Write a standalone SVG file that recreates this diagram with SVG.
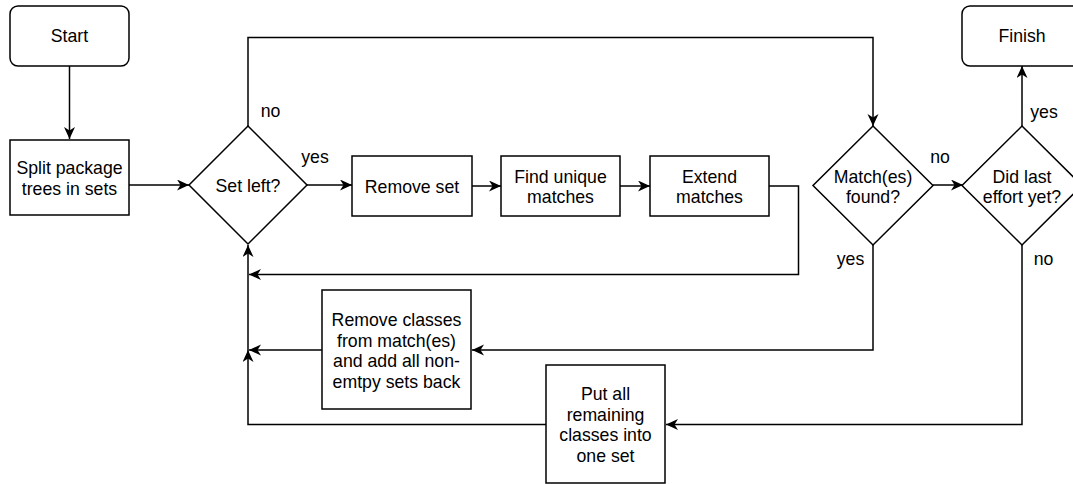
<svg xmlns="http://www.w3.org/2000/svg" width="1073" height="484" viewBox="0 0 1073 484">
<style>
.box{fill:#fff;stroke:#000;stroke-width:1.5}
.ln{fill:none;stroke:#000;stroke-width:1.5}
text{font-family:"Liberation Sans",Arial,sans-serif;font-size:17.7px;fill:#000;text-anchor:middle}
</style>
<defs>
<marker id="ah" markerUnits="userSpaceOnUse" markerWidth="14" markerHeight="12" refX="12" refY="5.5" orient="auto">
<path d="M0,0 L12,5.5 L0,11 L3.5,5.5 z" fill="#000"/>
</marker>
</defs>
<rect width="1073" height="484" fill="#fff"/>
<g id="connectors">
<path class="ln" d="M69.5,66 V139" marker-end="url(#ah)"/>
<path class="ln" d="M129,185 H189" marker-end="url(#ah)"/>
<path class="ln" d="M307,185 H352" marker-end="url(#ah)"/>
<path class="ln" d="M472,186 H501" marker-end="url(#ah)"/>
<path class="ln" d="M620,186 H650" marker-end="url(#ah)"/>
<path class="ln" d="M769,186 H798.5 V274.5 H249" marker-end="url(#ah)"/>
<path class="ln" d="M248,126 V37.5 H873 V126" marker-end="url(#ah)"/>
<path class="ln" d="M933,185 H963" marker-end="url(#ah)"/>
<path class="ln" d="M1022,126 V66" marker-end="url(#ah)"/>
<path class="ln" d="M873,245 V350 H472" marker-end="url(#ah)"/>
<path class="ln" d="M1022,245 V424.5 H666" marker-end="url(#ah)"/>
<path class="ln" d="M322,350 H249" marker-end="url(#ah)"/>
<path class="ln" d="M546,424.5 H248 V350" marker-end="url(#ah)"/>
<path class="ln" d="M248,350 V245" marker-end="url(#ah)"/>
</g>
<g id="start"><rect class="box" x="10" y="6" width="119" height="60" rx="8"/><text x="69.5" y="42">Start</text></g>
<g id="split"><rect class="box" x="10" y="140" width="119" height="75"/><text x="69.5" y="174">Split package</text><text x="69.5" y="194.5">trees in sets</text></g>
<g id="setleft"><path class="box" d="M248,126 L307,185 L248,244 L189,185 Z"/><text x="248" y="191.5">Set left?</text></g>
<g id="removeset"><rect class="box" x="352" y="156" width="120" height="60"/><text x="412" y="192.5">Remove set</text></g>
<g id="findunique"><rect class="box" x="501" y="156" width="119" height="60"/><text x="560.5" y="182.5">Find unique</text><text x="560.5" y="203">matches</text></g>
<g id="extend"><rect class="box" x="650" y="156" width="119" height="60"/><text x="709.5" y="182.5">Extend</text><text x="709.5" y="203">matches</text></g>
<g id="matchfound"><path class="box" d="M873,126 L933,185.5 L873,245 L813,185.5 Z"/><text x="873" y="183">Match(es)</text><text x="873" y="203">found?</text></g>
<g id="didlast"><path class="box" d="M1022,126 L1082,185.5 L1022,245 L962,185.5 Z"/><text x="1022" y="183">Did last</text><text x="1022" y="203">effort yet?</text></g>
<g id="finish"><rect class="box" x="962" y="6" width="120" height="60" rx="8"/><text x="1022" y="42">Finish</text></g>
<g id="removeclasses"><rect class="box" x="322" y="290" width="149" height="119"/><text x="396.5" y="326">Remove classes</text><text x="396.5" y="346.5">from match(es)</text><text x="396.5" y="367">and add all non-</text><text x="396.5" y="387.5">emtpy sets back</text></g>
<g id="putall"><rect class="box" x="546" y="365" width="119" height="118"/><text x="605.5" y="400">Put all</text><text x="605.5" y="420.5">remaining</text><text x="605.5" y="441">classes into</text><text x="605.5" y="461.5">one set</text></g>
<g id="labels">
<text x="270.5" y="117">no</text>
<text x="315" y="163">yes</text>
<text x="940" y="163">no</text>
<text x="1044" y="118">yes</text>
<text x="850.5" y="265">yes</text>
<text x="1043.5" y="265">no</text>
</g>
</svg>
